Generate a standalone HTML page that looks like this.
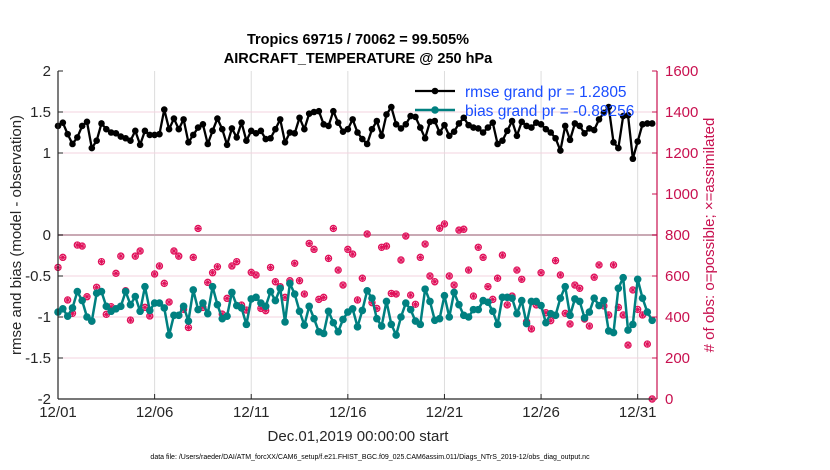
<!DOCTYPE html>
<html><head><meta charset="utf-8"><style>
body{margin:0;background:#fff;}
svg{display:block;font-family:"Liberation Sans",sans-serif;}
</style></head><body>
<svg id="chart" width="830" height="470"></svg>
<script>
const dayTicks=[0,5,10,15,20,25,30];
const dayLabels=["12/01","12/06","12/11","12/16","12/21","12/26","12/31"];
const leftTicks=[-2,-1.5,-1,-0.5,0,1,1.5,2];
const leftLabels=["-2","-1.5","-1","-0.5","0","1","1.5","2"];
const rightTicks=[0,200,400,600,800,1000,1200,1400,1600];
const rmse=[1.33,1.37,1.23,1.11,1.19,1.33,1.38,1.06,1.15,1.36,1.29,1.25,1.24,1.20,1.18,1.15,1.27,1.10,1.27,1.22,1.22,1.23,1.53,1.29,1.42,1.29,1.41,1.13,1.22,1.31,1.35,1.11,1.27,1.42,1.29,1.10,1.30,1.19,1.37,1.15,1.27,1.24,1.27,1.17,1.18,1.29,1.41,1.13,1.25,1.24,1.43,1.29,1.48,1.50,1.51,1.35,1.33,1.51,1.37,1.26,1.29,1.41,
1.25,1.17,1.11,1.29,1.39,1.21,1.47,1.56,1.35,1.30,1.35,1.45,1.44,1.31,1.18,1.38,1.39,1.25,1.34,1.21,1.26,1.36,1.43,1.34,1.31,1.30,1.25,1.31,1.37,1.11,1.15,1.27,1.39,1.21,1.38,1.33,1.31,1.37,1.35,1.29,1.25,1.18,1.03,1.33,1.16,1.36,1.33,1.24,1.30,1.28,1.41,1.49,1.56,1.13,1.06,1.45,1.46,0.93,1.14,1.35,1.36,1.36];
const bias=[-0.94,-0.90,-0.99,-0.89,-0.69,-0.80,-1.00,-1.05,-0.71,-0.69,-0.87,-0.93,-0.90,-0.87,-0.69,-0.85,-0.75,-0.93,-0.63,-0.92,-0.83,-0.83,-0.89,-1.22,-0.98,-0.98,-0.87,-1.05,-0.67,-0.91,-0.83,-0.96,-0.63,-0.85,-1.02,-0.99,-0.70,-0.86,-0.89,-1.09,-0.78,-0.76,-0.83,-0.87,-0.69,-0.80,-0.65,-1.06,-0.59,-0.72,-0.93,-1.10,-0.87,-1.02,-1.18,-1.20,-0.93,-1.07,-1.18,-1.03,-0.94,-0.90,
-1.12,-0.92,-0.68,-0.77,-1.02,-1.11,-0.81,-1.09,-1.22,-1.00,-0.83,-0.91,-1.05,-1.09,-0.66,-0.81,-1.04,-1.02,-0.74,-1.00,-0.70,-0.85,-0.98,-1.00,-0.91,-0.91,-0.80,-0.82,-0.93,-1.09,-0.76,-0.76,-0.77,-0.96,-0.80,-1.08,-0.81,-0.81,-0.86,-1.07,-0.96,-0.98,-0.77,-0.63,-0.98,-0.78,-0.81,-1.01,-0.94,-0.77,-0.86,-0.80,-1.17,-1.19,-0.65,-0.52,-1.16,-1.09,-0.54,-0.77,-0.94,-1.04];
const obsCount=[642,691,483,418,751,746,499,380,545,670,413,450,613,697,528,385,697,722,447,405,610,649,564,473,722,697,437,349,691,832,447,569,616,645,414,491,649,670,458,434,618,605,442,431,642,572,548,496,577,662,577,512,759,730,486,496,686,832,629,556,730,707,
483,589,805,470,442,740,746,515,512,678,795,507,462,691,756,600,572,833,854,600,556,824,828,629,502,740,691,548,486,589,702,459,502,629,584,377,342,459,616,421,382,675,605,418,366,556,540,390,356,594,654,454,410,654,447,410,263,532,437,410,268,0];

const NS="http://www.w3.org/2000/svg";
const svg=document.getElementById('chart');
const X0=58,X1=657,Y0=71,Y1=399;
const xs=d=>X0+(X1-X0)*d/31;
const yl=v=>Y1-(v+2)/4*(Y1-Y0);
const yr=v=>Y1-v/1600*(Y1-Y0);
const tday=i=>i*0.25;
function mk(tag,attrs,parent){const e=document.createElementNS(NS,tag);for(const k in attrs)e.setAttribute(k,attrs[k]);(parent||svg).appendChild(e);return e;}

const grid=mk('g',{});
dayTicks.forEach(d=>{if(d>0)mk('line',{x1:xs(d),x2:xs(d),y1:Y0,y2:Y1,stroke:'#dcdcdc','stroke-width':1},grid);});
leftTicks.forEach(v=>{if(v!==0&&v>-2&&v<2)mk('line',{x1:X0,x2:X1,y1:yl(v),y2:yl(v),stroke:'#f3d3df','stroke-width':1},grid);});
const zl=mk('line',{x1:X0,x2:X1,y1:yl(0),y2:yl(0),stroke:'#c9a9b4','stroke-width':2});


const og=mk('g',{});
obsCount.forEach((c,i)=>{const cx=xs(tday(i)),cy=yr(c);
 const g=mk('g',{},og);
 mk('circle',{cx:cx,cy:cy,r:3.1,fill:'none',stroke:'#e0105a','stroke-width':1.2},g);
 mk('path',{d:`M${cx-3} ${cy}H${cx+3}M${cx} ${cy-3}V${cy+3}M${cx-2.2} ${cy-2.2}L${cx+2.2} ${cy+2.2}M${cx-2.2} ${cy+2.2}L${cx+2.2} ${cy-2.2}`,stroke:'#e0105a','stroke-width':1},g);});

const bg=mk('g',{});
mk('polyline',{points:bias.map((v,i)=>xs(tday(i))+','+yl(v)).join(' '),fill:'none',stroke:'#008080','stroke-width':2.5,'stroke-linejoin':'round'},bg);
bias.forEach((v,i)=>{const c=mk('circle',{cx:xs(tday(i)),cy:yl(v),r:3.8,fill:'#008080'},bg);});

const rg=mk('g',{});
mk('polyline',{points:rmse.map((v,i)=>xs(tday(i))+','+yl(v)).join(' '),fill:'none',stroke:'#000','stroke-width':2.3,'stroke-linejoin':'round'},rg);
rmse.forEach((v,i)=>{const c=mk('circle',{cx:xs(tday(i)),cy:yl(v),r:3.3,fill:'#000'},rg);});

const ax=mk('g',{});
mk('line',{x1:X0,x2:X0,y1:Y0,y2:Y1,stroke:'#262626','stroke-width':1.2},ax);
mk('line',{x1:X0,x2:X1,y1:Y1,y2:Y1,stroke:'#262626','stroke-width':1.2},ax);
mk('line',{x1:X1,x2:X1,y1:Y0,y2:Y1,stroke:'#c8104f','stroke-width':1.2},ax);
leftTicks.forEach((v,i)=>{mk('line',{x1:X0,x2:X0+5,y1:yl(v),y2:yl(v),stroke:'#262626'},ax);
 const t=mk('text',{x:X0-7,y:yl(v)+5,'text-anchor':'end','font-size':15,fill:'#262626'},ax);t.textContent=leftLabels[i];
 });
rightTicks.forEach(v=>{mk('line',{x1:X1-5,x2:X1,y1:yr(v),y2:yr(v),stroke:'#c8104f'},ax);
 const t=mk('text',{x:X1+8,y:yr(v)+5,'font-size':15,fill:'#c8104f'},ax);t.textContent=String(v);
 });
dayTicks.forEach((d,i)=>{mk('line',{x1:xs(d),x2:xs(d),y1:Y1-5,y2:Y1,stroke:'#262626'},ax);
 const t=mk('text',{x:xs(d),y:Y1+18,'text-anchor':'middle','font-size':15,fill:'#262626'},ax);t.textContent=dayLabels[i];
 });
</script>
<svg width="830" height="470" style="position:absolute;left:0;top:0">
<text x="358" y="44" text-anchor="middle" font-size="14.5" font-weight="bold" fill="#000">Tropics 69715 / 70062 = 99.505%</text>
<text x="358" y="63" text-anchor="middle" font-size="14.5" font-weight="bold" fill="#000">AIRCRAFT_TEMPERATURE @ 250 hPa</text>
<text transform="translate(21,235) rotate(-90)" text-anchor="middle" font-size="15" fill="#262626">rmse and bias (model - observation)</text>
<text transform="translate(714,235) rotate(-90)" text-anchor="middle" font-size="15" fill="#c8104f"># of obs: o=possible; ×=assimilated</text>
<text x="358" y="441" text-anchor="middle" font-size="15" fill="#262626">Dec.01,2019 00:00:00 start</text>
<text x="370" y="459" text-anchor="middle" font-size="7" fill="#000">data file: /Users/raeder/DAI/ATM_forcXX/CAM6_setup/f.e21.FHIST_BGC.f09_025.CAM6assim.011/Diags_NTrS_2019-12/obs_diag_output.nc</text>
<g>
<line x1="415" x2="455" y1="91" y2="91" stroke="#000" stroke-width="2.3"/><circle cx="435" cy="91" r="3.3" fill="#000"/>
<text x="465" y="97" font-size="15.5" fill="#1a4dff">rmse grand pr = 1.2805</text>
<line x1="415" x2="455" y1="110" y2="110" stroke="#008080" stroke-width="2.5"/><circle cx="435" cy="110" r="3.8" fill="#008080"/>
<text x="465" y="116" font-size="15.5" fill="#1a4dff">bias grand pr = -0.89256</text>
</g>
</svg>
</body></html>
